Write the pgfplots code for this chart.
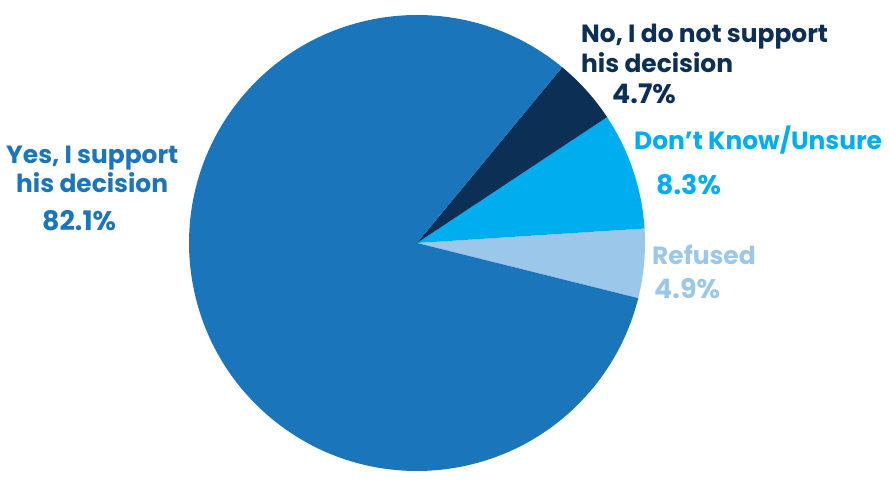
\documentclass[border=0pt]{standalone}
\usepackage{pgfplots}
\pgfplotsset{compat=1.18}
\usepackage{pgfplotstable}
\usepackage{fontspec}
\setmainfont{Poppins}[BoldFont={Poppins Bold}]
\definecolor{cyes}{HTML}{1B75BB}
\definecolor{cno}{HTML}{0B2F55}
\definecolor{cdk}{HTML}{00AEEF}
\definecolor{cref}{HTML}{9BC7EA}
\pgfplotstableread{
label value
Refused 4.9
DontKnow 8.3
No 4.7
Yes 82.1
}\piedata
\pgfplotstablegetelem{0}{value}\of\piedata \let\vRef\pgfplotsretval
\pgfplotstablegetelem{1}{value}\of\piedata \let\vDK\pgfplotsretval
\pgfplotstablegetelem{2}{value}\of\piedata \let\vNo\pgfplotsretval
\pgfplotstablegetelem{3}{value}\of\piedata \let\vYes\pgfplotsretval
\pgfmathsetmacro\aA{-14.0}
\pgfmathsetmacro\aB{\aA+3.6*\vRef}
\pgfmathsetmacro\aC{\aB+3.6*\vDK}
\pgfmathsetmacro\aD{\aC+3.6*\vNo}
\pgfmathsetmacro\aE{\aD+3.6*\vYes}
\def\cx{417}\def\cy{238}\def\rr{228}
\newcommand\slice[3]{\fill[#3] (axis cs:\cx,\cy) -- (axis cs:{\cx+\rr*cos(#1)},{\cy+\rr*sin(#1)}) arc[start angle=#1, end angle=#2, radius=\rr bp] -- cycle;}
\tikzset{lbl/.style={anchor=base west, inner sep=0pt, font=\fontsize{25}{29}\selectfont\bfseries},
  pct/.style={anchor=base west, inner sep=0pt, font=\fontsize{27}{31}\selectfont\bfseries}}
\begin{document}
\begin{tikzpicture}
\path[use as bounding box] (0,0) rectangle (889bp,481bp);
\begin{axis}[scale only axis, width=889bp, height=481bp, at={(0,0)}, anchor=south west,
  xmin=0, xmax=889, ymin=0, ymax=481, hide axis, clip=false]
\addplot[draw=none] coordinates {(0,0) (889,481)};
\slice{\aA}{\aB}{cref}
\slice{\aB}{\aC}{cdk}
\slice{\aC}{\aD}{cno}
\slice{\aD}{\aE}{cyes}
\node[lbl, text=cyes] at (axis cs:6,{481-164}) {Yes, I support};
\node[lbl, text=cyes] at (axis cs:16,{481-193}) {his decision};
\node[pct, text=cyes] at (axis cs:42,{481-231}) {\vYes\%};
\node[lbl, text=cno] at (axis cs:581,{481-43}) {No, I do not support};
\node[lbl, text=cno] at (axis cs:581,{481-73}) {his decision};
\node[pct, text=cno] at (axis cs:612,{481-104}) {\vNo\%};
\node[lbl, text=cdk] at (axis cs:634,{481-150}) {Don’t Know/Unsure};
\node[pct, text=cdk] at (axis cs:656,{481-195}) {\vDK\%};
\node[lbl, text=cref] at (axis cs:652,{481-265}) {Refused};
\node[pct, text=cref] at (axis cs:654,{481-299}) {\vRef\%};
\end{axis}
\end{tikzpicture}
\end{document}
